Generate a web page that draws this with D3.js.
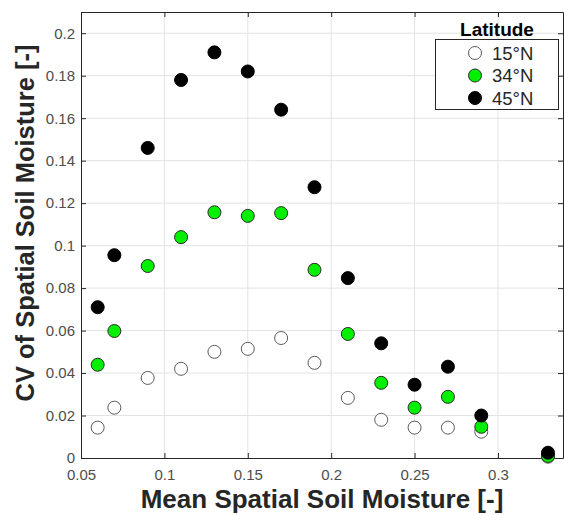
<!DOCTYPE html>
<html>
<head>
<meta charset="utf-8">
<script src="https://cdn.jsdelivr.net/npm/d3@7"></script>
<style>
  body { margin: 0; background: #fff; }
  svg { display: block; font-family: "Liberation Sans", Arial, sans-serif; }
</style>
</head>
<body>
<svg width="564" height="515"></svg>
<script>
const svg = d3.select("svg");

// data
const meanSM = [0.06, 0.07, 0.09, 0.11, 0.13, 0.15, 0.17, 0.19, 0.21, 0.23, 0.25, 0.27, 0.29, 0.33];
const cv15 = [0.0143, 0.0237, 0.0377, 0.042, 0.05, 0.0514, 0.0565, 0.0448, 0.0283, 0.018, 0.0143, 0.0143, 0.0124, 0.0006];
const cv34 = [0.0439, 0.0598, 0.0904, 0.104, 0.1157, 0.114, 0.1153, 0.0886, 0.0584, 0.0354, 0.0237, 0.0288, 0.0147, 0.001];
const cv45 = [0.071, 0.0955, 0.146, 0.178, 0.191, 0.182, 0.164, 0.1275, 0.0847, 0.054, 0.0345, 0.043, 0.02, 0.0025];
const seriesNames = ["15°N", "34°N", "45°N"];
const xTicks = [0.05, 0.1, 0.15, 0.2, 0.25, 0.3];
const yTicks = [0, 0.02, 0.04, 0.06, 0.08, 0.1, 0.12, 0.14, 0.16, 0.18, 0.2];

const styles = [
  { fill: "#ffffff", stroke: "#5a5a5a" },
  { fill: "#00f000", stroke: "#2a2a2a" },
  { fill: "#000000", stroke: "#000000" }
];
const series = [cv15, cv34, cv45].map((vals, i) => ({
  name: seriesNames[i],
  style: styles[i],
  points: meanSM.map((x, j) => ({ x: x, y: vals[j] }))
}));

// plot box
const pLeft = 81, pRight = 563, pTop = 12, pBottom = 458;

const x = d3.scaleLinear().domain([0.05, 0.339]).range([pLeft, pRight]);
const y = d3.scaleLinear().domain([0, 0.21]).range([pBottom, pTop]);

// grid
const grid = svg.append("g");
grid.selectAll(".gx").data(xTicks.slice(1)).enter().append("line")
  .attr("x1", (d) => x(d)).attr("x2", (d) => x(d))
  .attr("y1", pTop).attr("y2", pBottom)
  .attr("stroke", "#e3e3e3").attr("stroke-width", 1);
grid.selectAll(".gy").data(yTicks.slice(1)).enter().append("line")
  .attr("x1", pLeft).attr("x2", pRight)
  .attr("y1", (d) => y(d)).attr("y2", (d) => y(d))
  .attr("stroke", "#e3e3e3").attr("stroke-width", 1);

// axes
const fmt = (d) => d3.format("")(+d.toFixed(2));
const axisColor = "#262626";

const xAxis = svg.append("g")
  .attr("transform", `translate(0,${pBottom})`)
  .call(d3.axisBottom(x).tickValues(xTicks).tickFormat(fmt).tickSizeInner(-5).tickSizeOuter(0).tickPadding(11));
const yAxis = svg.append("g")
  .attr("transform", `translate(${pLeft},0)`)
  .call(d3.axisLeft(y).tickValues(yTicks).tickFormat(fmt).tickSizeInner(-5).tickSizeOuter(0).tickPadding(6));
const xTop = svg.append("g")
  .attr("transform", `translate(0,${pTop})`)
  .call(d3.axisTop(x).tickValues(xTicks).tickFormat("").tickSizeInner(-5).tickSizeOuter(0));
const yRight = svg.append("g")
  .attr("transform", `translate(${pRight},0)`)
  .call(d3.axisRight(y).tickValues(yTicks).tickFormat("").tickSizeInner(-5).tickSizeOuter(0));

[xAxis, yAxis, xTop, yRight].forEach((g) => {
  g.select(".domain").attr("stroke", axisColor);
  g.selectAll(".tick line").attr("stroke", axisColor);
  g.selectAll(".tick text")
    .attr("fill", "#4d4d4d")
    .style("font-size", "15px")
    .style("font-family", "'Liberation Sans', Arial, sans-serif");
});

// axis titles
svg.append("text")
  .attr("x", (pLeft + pRight) / 2)
  .attr("y", 508)
  .attr("text-anchor", "middle")
  .attr("fill", "#262626")
  .style("font-size", "26px")
  .style("font-weight", "bold")
  .text("Mean Spatial Soil Moisture [-]");

svg.append("text")
  .attr("transform", "translate(34,223) rotate(-90)")
  .attr("text-anchor", "middle")
  .attr("fill", "#262626")
  .style("font-size", "25.5px")
  .style("font-weight", "bold")
  .text("CV of Spatial Soil Moisture [-]");

// markers
const marks = svg.append("g");
series.forEach((s) => {
  marks.append("g").selectAll("circle").data(s.points).enter().append("circle")
    .attr("cx", (d) => x(d.x))
    .attr("cy", (d) => y(d.y))
    .attr("r", 6.5)
    .attr("fill", s.style.fill)
    .attr("stroke", s.style.stroke)
    .attr("stroke-width", 1);
});

// legend
const legend = svg.append("g");
legend.append("rect")
  .attr("x", 435.5).attr("y", 39.5)
  .attr("width", 123).attr("height", 70)
  .attr("fill", "#fff").attr("stroke", axisColor);
legend.append("text")
  .attr("x", 497).attr("y", 36)
  .attr("text-anchor", "middle")
  .attr("fill", "#000")
  .style("font-size", "19px")
  .style("font-weight", "bold")
  .text("Latitude");
const rows = legend.selectAll(".row").data(series).enter().append("g")
  .attr("transform", (d, i) => `translate(0,${53 + i * 22.5})`);
rows.append("circle")
  .attr("cx", 475).attr("cy", 0).attr("r", 6.5)
  .attr("fill", (d) => d.style.fill)
  .attr("stroke", (d) => d.style.stroke);
rows.append("text")
  .attr("x", 492).attr("y", 6.5)
  .attr("fill", "#262626")
  .style("font-size", "18.5px")
  .text((d) => d.name);
</script>
</body>
</html>
